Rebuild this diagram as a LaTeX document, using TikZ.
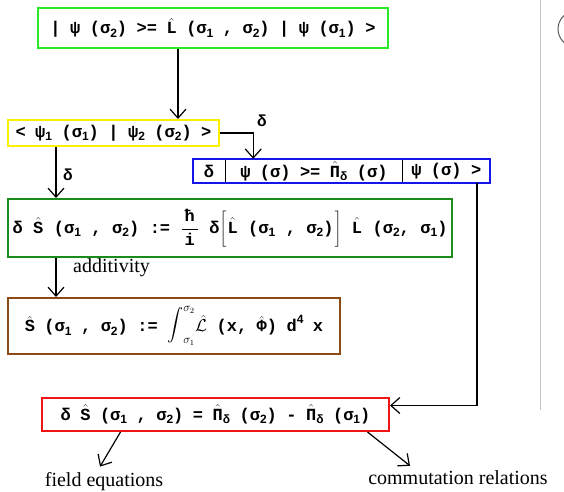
\documentclass[tikz,border=0pt]{standalone}
\usepackage{fontspec}
\usepackage{graphicx}
\setmainfont{Liberation Serif}
\setmonofont{Liberation Mono}
\newfontfamily\subf{Liberation Sans}
\usetikzlibrary{arrows.meta,positioning}
\definecolor{cTop}{RGB}{40,235,40}
\definecolor{cYel}{RGB}{250,240,0}
\definecolor{cBlue}{RGB}{20,20,235}
\definecolor{cDG}{RGB}{25,140,25}
\definecolor{cBrown}{RGB}{140,75,20}
\definecolor{cRed}{RGB}{240,20,20}
\newcommand\ssub[1]{\raisebox{-0.35ex}{\fontsize{12}{12}\selectfont\subf #1}}
\newcommand\hatt[1]{\ensuremath{\hat{\mbox{#1}}}}
\newcommand\eqfont{\fontsize{17}{19}\selectfont\ttfamily\bfseries\spaceskip=9.5pt\relax}
\newcommand\eqfontw{\fontsize{17}{19}\selectfont\ttfamily\bfseries\spaceskip=10.5pt\relax}
\newcommand\bigint{\ensuremath{\displaystyle\mathop{\mbox{\scalebox{1.6}{$\displaystyle\int$}}}\nolimits_{\sigma_1}^{\sigma_2}}}
\newcommand\lbr{\ensuremath{\left[\rule[-9pt]{0pt}{30pt}\right.}}
\newcommand\rbr{\ensuremath{\left.\rule[-9pt]{0pt}{30pt}\right]}}
\tikzset{
  x=1pt,y=-1pt,
  eq/.style={font=\eqfont, inner sep=0pt},
  eqw/.style={font=\eqfontw, inner sep=0pt},
  box/.style={draw, line width=2pt, inner sep=0pt},
  lbl/.style={font=\fontsize{20}{22}\selectfont, inner sep=0pt},
  dl/.style={font=\fontsize{16}{18}\selectfont\ttfamily\bfseries, inner sep=0pt},
  arr/.style={line width=1.2pt, -{Straight Barb[length=9pt,width=16pt,line width=1.2pt]}},
}
\begin{document}
\begin{tikzpicture}
\useasboundingbox (0,0) rectangle (564,491);
% stray page elements
\draw[gray!45, line width=1pt] (540,0) -- (540,410);
\draw[gray!70!black, line width=1pt] (576,11) arc[start angle=90, end angle=270, radius=18pt];
\coordinate (c56) at (56,0);
\coordinate (c477) at (477,0);
% boxes
\node[box, draw=cTop, minimum width=350, minimum height=40] (top) at (213,28) {};
\node[eq] (toptxt) at (top) {| ψ (σ\ssub{2}) >= \hatt{L} (σ\ssub{1} , σ\ssub{2}) | ψ (σ\ssub{1}) >};
\node[box, draw=cYel, minimum width=211, minimum height=26] (yel) at (113.5,133) {};
\node[eq] (yeltxt) at (yel) {< ψ\ssub{1} (σ\ssub{1}) | ψ\ssub{2} (σ\ssub{2}) >};
% blue split box
\node[eq, minimum width=32, minimum height=24] (bd) at (209,171) {δ};
\node[eq, minimum width=177, minimum height=24, right=0pt of bd] (bm) {ψ (σ) >= \hatt{Π}\ssub{δ} (σ)};
\node[eq, minimum width=87, minimum height=24, right=0pt of bm] (br) {ψ (σ) >};
\draw[line width=1.2pt] (bd.north east) -- (bd.south east);
\draw[line width=1.2pt] (bm.north east) -- (bm.south east);
\draw[cBlue, line width=2pt] (bd.north west) rectangle (br.south east);
% dark green box
\node[box, draw=cDG, minimum width=444, minimum height=58] (g2) at (230,228) {};
\node[eqw] (g2txt) at (g2) {δ \hatt{S} (σ\ssub{1} , σ\ssub{2}) := $\displaystyle\frac{\mbox{\,ħ\,}}{\mbox{i}}$ δ\lbr\hatt{L} (σ\ssub{1} , σ\ssub{2})\rbr\ \hatt{L} (σ\ssub{2}, σ\ssub{1})};
% brown box
\node[box, draw=cBrown, minimum width=332, minimum height=56] (brn) at (174,326) {};
\node[eq] (brntxt) at (brn) {\hatt{S} (σ\ssub{1} , σ\ssub{2}) := \bigint$\hat{\mathcal{L}}$ (x, \hatt{Φ}) d\raisebox{0.9ex}{\fontsize{12}{12}\selectfont\subf 4} x};
% red box
\node[box, draw=cRed, minimum width=347, minimum height=33] (red) at (215.5,414.5) {};
\node[eq] (redtxt) at (red) {δ \hatt{S} (σ\ssub{1} , σ\ssub{2}) = \hatt{Π}\ssub{δ} (σ\ssub{2}) - \hatt{Π}\ssub{δ} (σ\ssub{1})};
% labels
\node[lbl] (fe) at (104,482) {field equations};
\node[lbl] (cr) at (458,478) {commutation relations};
% connectors
\draw[arr] ([xshift=-35pt]top.south) -- ([xshift=-35pt]top.south |- yel.north);
\draw[arr] (yel.east) -| ([xshift=28pt]bm.north west);
\node[dl] (d1) at (262,121) {δ};
\draw[arr] (yel.south -| c56) -- (g2.north -| c56);
\node[dl] (d2) at (68,175) {δ};
\draw[arr] (g2.south -| c56) -- (brn.north -| c56);
\node[lbl, anchor=west] (add) at (73,268) {additivity};
\draw[arr] (br.south -| c477) |- ([yshift=9pt]red.east);
\draw[arr] ([xshift=-95pt]red.south) -- ([xshift=-4pt,yshift=6pt]fe.north);
\draw[arr] ([xshift=152pt]red.south) -- ([xshift=-48pt,yshift=5pt]cr.north);
\end{tikzpicture}
\end{document}
